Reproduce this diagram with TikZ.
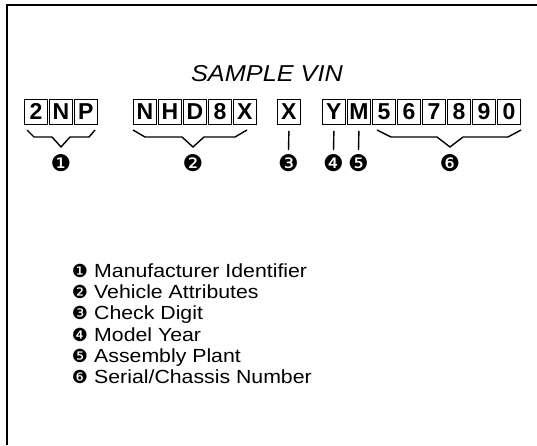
\documentclass[tikz,border=0pt]{standalone}
\usepackage{fontspec}
\usepackage{graphicx}
\setmainfont{Liberation Sans}
\newfontfamily\djv{DejaVu Sans}
\newcommand{\wide}[2]{\scalebox{#1}[1]{#2}}
\begin{document}
\begin{tikzpicture}[x=1pt,y=-1pt,
  vbox/.style={draw=black,line width=0.8pt,minimum width=23pt,minimum height=25pt,inner sep=0pt,
    font=\fontsize{23}{25}\selectfont\bfseries,anchor=north west},
  brk/.style={line width=1.4pt},
  num/.style={font=\djv\fontsize{23}{26}\selectfont,inner sep=0pt},
  bul/.style={font=\djv\fontsize{18}{20}\selectfont,inner sep=0pt},
  item/.style={anchor=base west,font=\fontsize{19}{22}\selectfont,inner sep=0pt},
  title/.style={font=\fontsize{23}{26}\selectfont\itshape,inner sep=0pt}]
\useasboundingbox (0,0) rectangle (537,445);
\draw[line width=2.5pt] (537,5) -- (7,5) -- (7,445);
\node[title] (title) at (267,74) {\wide{1.1}{SAMPLE VIN}};
% boxes
\foreach \c [count=\i] in {2,N,P} \node[vbox] (a\i) at ({24+25*(\i-1)},99) {\c};
\foreach \c [count=\i] in {N,H,D,8,X} \node[vbox] (b\i) at ({133+25*(\i-1)},99) {\c};
\node[vbox] (c1) at (277,99) {X};
\foreach \c [count=\i] in {Y,M,5,6,7,8,9,0} \node[vbox] (d\i) at ({322+25*(\i-1)},99) {\c};
% numbers
\node[num] (n1) at (61,163) {❶};
\node[num] (n2) at (193,163) {❷};
\node[num] (n3) at (288.5,163) {❸};
\node[num] (n4) at (333.5,163) {❹};
\node[num] (n5) at (358.5,163) {❺};
\node[num] (n6) at (450,163) {❻};
% braces
\draw[brk] (27,130) -- (34,137) -- (52,137) -- (61,147) -- (70,137) -- (89,137) -- (95,130);
\draw[brk] (133,130) -- (145,137) -- (182,137) -- (193,147) -- (204,137) -- (235,137) -- (247,130);
\draw[brk] (377,130) -- (391,137) -- (437,137) -- (450,147) -- (463,137) -- (508,137) -- (521,130);
% lines
\draw[brk] ([yshift=-6pt]c1.south) -- ([yshift=4pt]n3.north);
\draw[brk] ([yshift=-6pt]d1.south) -- ([yshift=4pt]n4.north);
\draw[brk] ([yshift=-6pt]d2.south) -- ([yshift=4pt]n5.north);
% list
\node[bul] (l1) at (80,271) {❶};
\node[item] (t1) at (94,277.5) {\wide{1.12}{Manufacturer Identifier}};
\node[bul] (l2) at (80,292.2) {❷};
\node[item] (t2) at (94,298.7) {\wide{1.12}{Vehicle Attributes}};
\node[bul] (l3) at (80,313.4) {❸};
\node[item] (t3) at (94,319.9) {\wide{1.12}{Check Digit}};
\node[bul] (l4) at (80,334.6) {❹};
\node[item] (t4) at (94,341.1) {\wide{1.12}{Model Year}};
\node[bul] (l5) at (80,355.8) {❺};
\node[item] (t5) at (94,362.3) {\wide{1.12}{Assembly Plant}};
\node[bul] (l6) at (80,377) {❻};
\node[item] (t6) at (94,383.5) {\wide{1.12}{Serial/Chassis Number}};
\end{tikzpicture}
\end{document}
